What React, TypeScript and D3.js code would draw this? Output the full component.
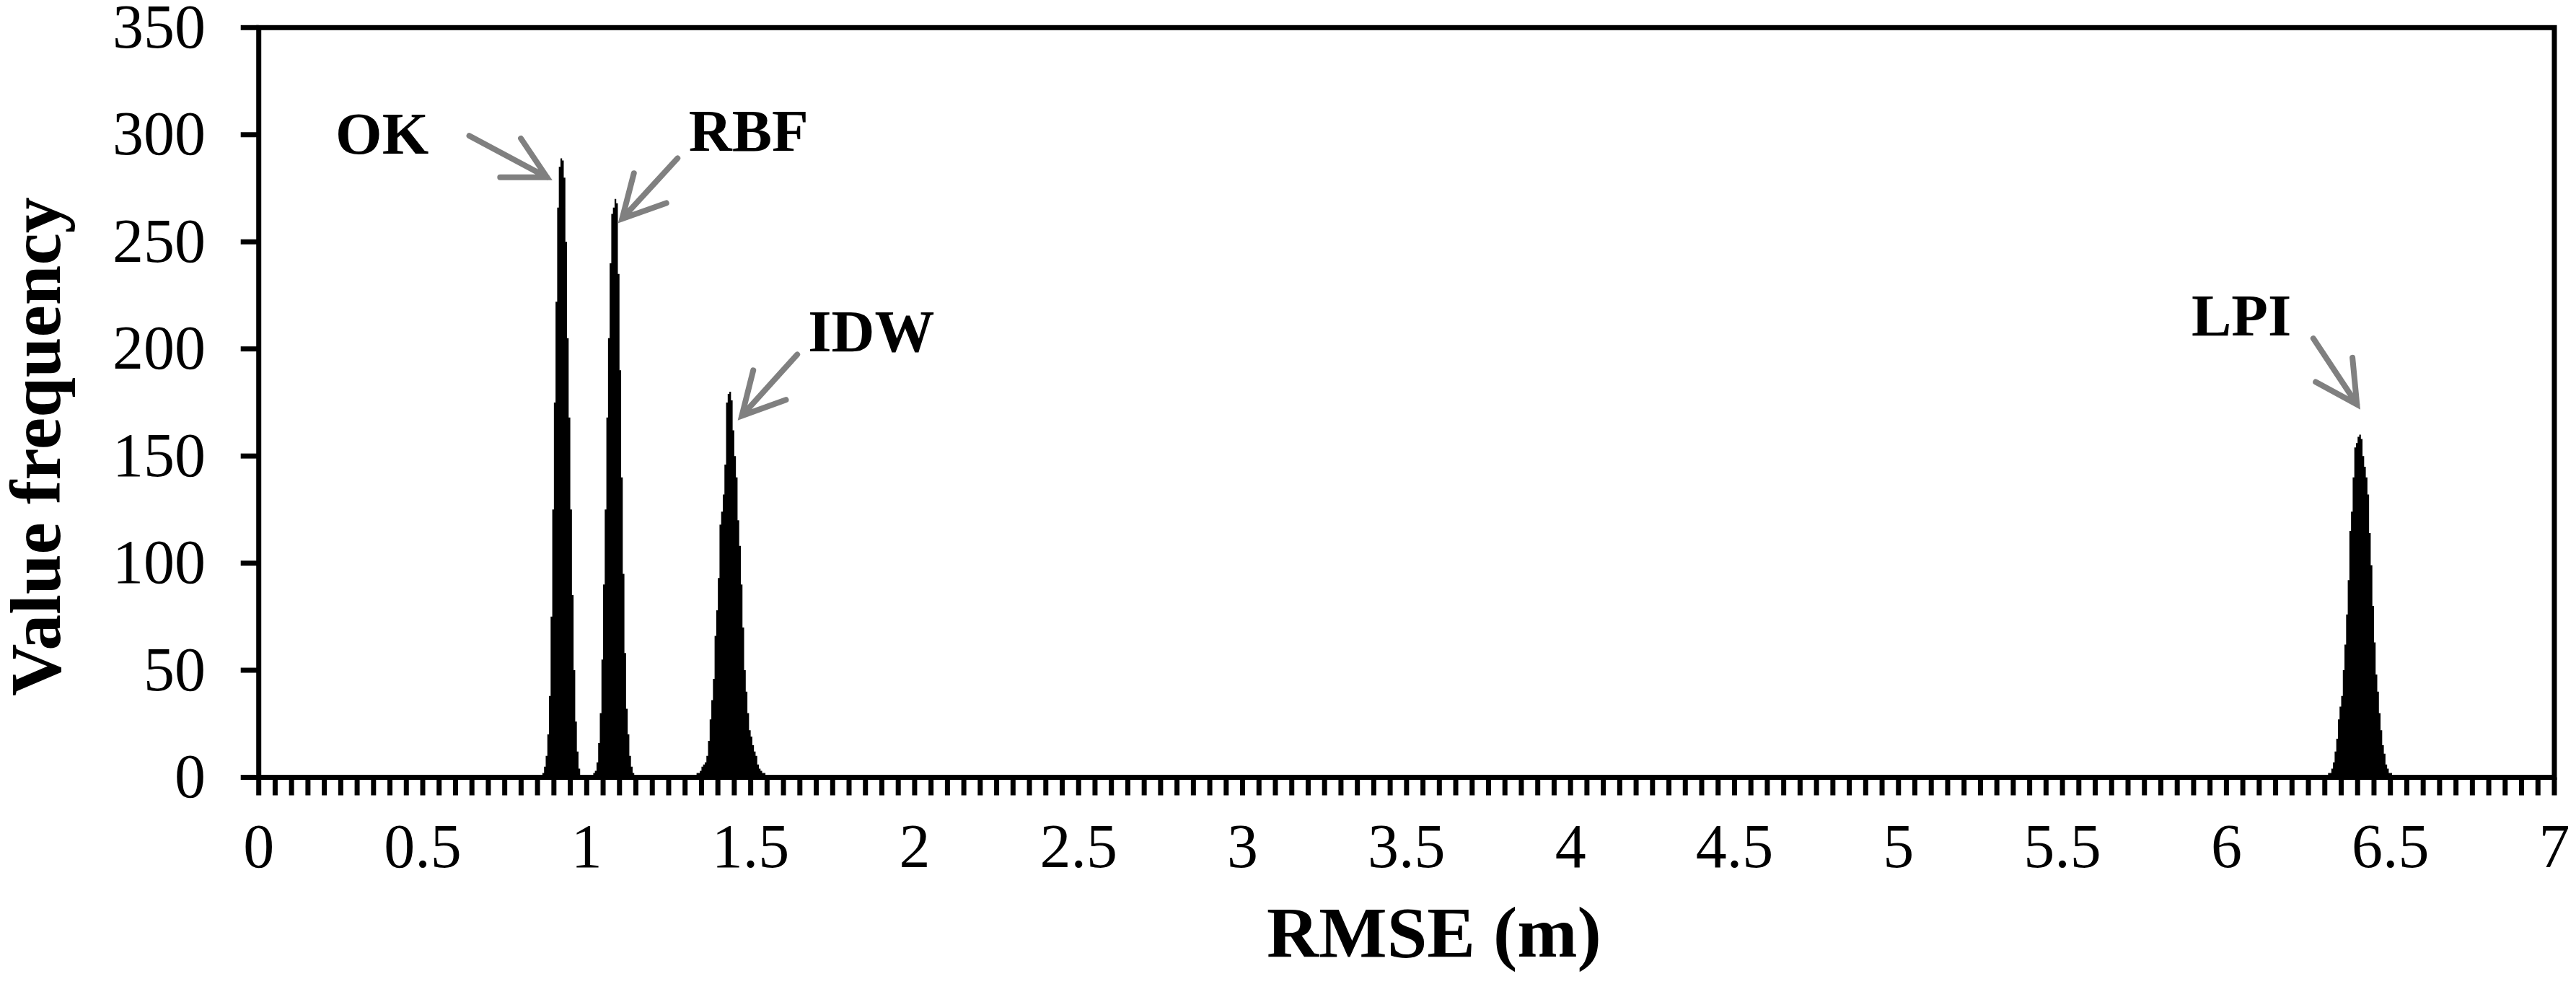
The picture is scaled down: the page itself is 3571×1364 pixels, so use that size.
import React from "react";
import * as d3 from "d3";

// ---- Data (histograms of RMSE, bin width 0.005 m) ----
const binWidth = 0.005;

const okStart = 0.865;
const okValues = [2, 5, 10, 20, 38, 75, 125, 175, 222, 266, 285, 289, 288, 280, 250, 205, 168, 125, 85, 50, 26, 12, 4];

const rbfStart = 1.015;
const rbfValues = [1, 2, 3, 7, 16, 30, 55, 90, 125, 168, 205, 240, 263, 266, 270, 268, 235, 190, 140, 95, 58, 32, 20, 10, 5, 2];

const idwStart = 1.33;
const idwValues = [1, 2, 2, 3, 5, 6, 7, 10, 17, 27, 36, 46, 66, 78, 93, 118, 124, 132, 146, 175, 179, 180, 176, 162, 150, 140, 120, 108, 90, 70, 50, 40, 30, 22, 19, 15, 12, 10, 6, 4, 3, 2, 2, 1, 1];

const lpiStart = 6.305;
const lpiValues = [1, 2, 2, 4, 7, 12, 18, 27, 33, 38, 50, 62, 76, 92, 115, 124, 140, 154, 156, 159, 160, 158, 150, 145, 140, 132, 114, 99, 80, 63, 48, 40, 30, 22, 15, 11, 6, 4, 2, 2, 1, 1, 1];

const seriesStarts = [okStart, rbfStart, idwStart, lpiStart];
const seriesValues = [okValues, rbfValues, idwValues, lpiValues];

// ---- Axes ----
const xDomain = [0, 7];
const yDomain = [0, 350];
const xTickLabels = ["0", "0.5", "1", "1.5", "2", "2.5", "3", "3.5", "4", "4.5", "5", "5.5", "6", "6.5", "7"];
const xTickLabelValues = [0, 0.5, 1, 1.5, 2, 2.5, 3, 3.5, 4, 4.5, 5, 5.5, 6, 6.5, 7];
const xMinorStep = 0.05;
const yTickValues = [0, 50, 100, 150, 200, 250, 300, 350];
const xTitle = "RMSE (m)";
const yTitle = "Value frequency";

// ---- Annotations (data coordinates) ----
const labelNames = ["OK", "RBF", "IDW", "LPI"];
const labelX = [0.234, 1.311, 1.675, 5.8935];
const labelY = [291.1, 292.6, 198.9, 206.3];
const arrowTailX = [0.642, 1.277, 1.642, 6.265];
const arrowTailY = [299.5, 289.0, 197.4, 204.9];
const arrowTipX = [0.879, 1.108, 1.473, 6.398];
const arrowTipY = [280.1, 260.8, 168.8, 174.1];

const W = 3571;
const H = 1364;
const FONT = "'Liberation Serif', 'Times New Roman', Times, serif";

export default function App() {
  const left = 358.7;
  const right = 3541;
  const top = 38.3;
  const bottom = 1077.5;
  const x = d3.scaleLinear().domain(xDomain).range([left, right]);
  const y = d3.scaleLinear().domain(yDomain).range([bottom, top]);

  const area = d3
    .area<[number, number]>()
    .x((d) => x(d[0]))
    .y0(y(0))
    .y1((d) => y(d[1]))
    .curve(d3.curveStepAfter);

  const peakPaths = seriesValues.map((vals, si) => {
    const start = seriesStarts[si];
    const pts: [number, number][] = vals.map((v, i) => [start + i * binWidth, v]);
    pts.push([start + vals.length * binWidth, 0]);
    return area(pts) || "";
  });

  const nMinor = Math.round((xDomain[1] - xDomain[0]) / xMinorStep);
  const minorTicks = d3.range(nMinor + 1).map((i) => xDomain[0] + i * xMinorStep);

  const axisW = 7;
  const tickLen = 25;
  const tickFont = 86;
  const labelFont = 83;
  const titleFont = 100;
  const arrowColor = "#808080";
  const barbLen = 65;
  const barbAng = (28 * Math.PI) / 180;

  return (
    <svg
      width={W}
      height={H}
      style={{ position: "absolute", left: 0, top: 0, background: "#fff" }}
      fontFamily={FONT}
    >
      <rect x={0} y={0} width={W} height={H} fill="#fff" />
      {peakPaths.map((p, i) => (
        <path key={i} d={p} fill="#000" stroke="none" />
      ))}

      {/* x minor ticks */}
      {minorTicks.map((t, i) => (
        <line key={i} x1={x(t)} x2={x(t)} y1={bottom} y2={bottom + tickLen} stroke="#000" strokeWidth={axisW} />
      ))}
      {/* y ticks */}
      {yTickValues.map((t, i) => (
        <line key={i} x1={left - tickLen} x2={left} y1={y(t)} y2={y(t)} stroke="#000" strokeWidth={axisW} />
      ))}
      {/* plot border */}
      <rect x={left} y={top} width={right - left} height={bottom - top} fill="none" stroke="#000" strokeWidth={axisW} />

      {/* y tick labels */}
      {yTickValues.map((t, i) => (
        <text key={i} x={285} y={y(t)} dy="0.32em" textAnchor="end" fontSize={tickFont} fill="#000">
          {String(t)}
        </text>
      ))}
      {/* x tick labels */}
      {xTickLabelValues.map((t, i) => (
        <text key={i} x={x(t)} y={1202} textAnchor="middle" fontSize={tickFont} fill="#000">
          {xTickLabels[i]}
        </text>
      ))}

      {/* axis titles */}
      <text x={1988} y={1326} textAnchor="middle" fontSize={titleFont} fontWeight="bold" fill="#000">
        {xTitle}
      </text>
      <text
        transform={`translate(83, 619) rotate(-90)`}
        textAnchor="middle"
        fontSize={titleFont}
        fontWeight="bold"
        fill="#000"
      >
        {yTitle}
      </text>

      {/* annotations */}
      {labelNames.map((name, i) => {
        const tx = x(arrowTailX[i]);
        const ty = y(arrowTailY[i]);
        const hx = x(arrowTipX[i]);
        const hy = y(arrowTipY[i]);
        const back = Math.atan2(ty - hy, tx - hx);
        const b1x = hx + barbLen * Math.cos(back + barbAng);
        const b1y = hy + barbLen * Math.sin(back + barbAng);
        const b2x = hx + barbLen * Math.cos(back - barbAng);
        const b2y = hy + barbLen * Math.sin(back - barbAng);
        return (
          <g key={name}>
            <path
              d={`M${tx},${ty}L${hx},${hy}M${b1x},${b1y}L${hx},${hy}L${b2x},${b2y}`}
              fill="none"
              stroke={arrowColor}
              strokeWidth={8}
              strokeLinecap="round"
              strokeLinejoin="miter"
            />
            <text x={x(labelX[i])} y={y(labelY[i])} fontSize={labelFont} fontWeight="bold" fill="#000">
              {name}
            </text>
          </g>
        );
      })}
    </svg>
  );
}
